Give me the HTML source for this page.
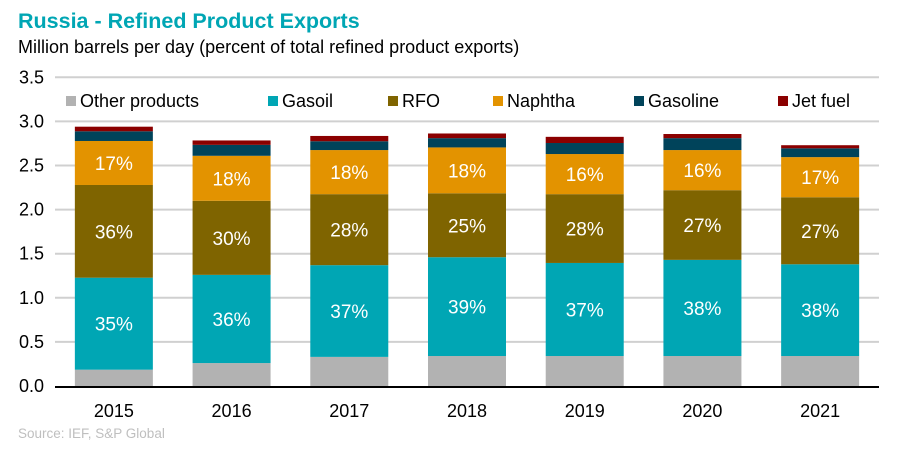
<!DOCTYPE html>
<html><head><meta charset="utf-8"><style>
body{margin:0;background:#fff;font-family:"Liberation Sans",Arial,sans-serif}
svg text{font-family:"Liberation Sans",Arial,sans-serif}
</style></head><body>
<svg width="900" height="450" viewBox="0 0 900 450">
<text x="18" y="28" font-size="21.5" font-weight="bold" fill="#00a6b4">Russia - Refined Product Exports</text>
<text x="18" y="53" font-size="18" fill="#000">Million barrels per day (percent of total refined product exports)</text>
<g id="grid"></g><g id="bars"></g><g id="legend"></g>
<text x="18" y="438" font-size="13.5" fill="#bfbfbf">Source: IEF, S&amp;P Global</text>
</svg>
<script>
const years=["2015","2016","2017","2018","2019","2020","2021"];
const seriesNames=["Other products","Gasoil","RFO","Naphtha","Gasoline","Jet fuel"];
const other=[0.185,0.26,0.33,0.34,0.34,0.34,0.34];
const gasoil=[1.043,1.00,1.04,1.12,1.055,1.09,1.04];
const rfo=[1.051,0.84,0.805,0.725,0.78,0.79,0.76];
const naphtha=[0.499,0.51,0.50,0.52,0.455,0.455,0.455];
const gasoline=[0.11,0.124,0.10,0.105,0.125,0.135,0.10];
const jet=[0.052,0.05,0.06,0.053,0.07,0.047,0.035];
const gasoilPct=["35%","36%","37%","39%","37%","38%","38%"];
const rfoPct=["36%","30%","28%","25%","28%","27%","27%"];
const naphthaPct=["17%","18%","18%","18%","16%","16%","17%"];
const yTicks=[0,0.5,1.0,1.5,2.0,2.5,3.0,3.5];
const colors=["#b2b2b2","#00a6b4","#7f6400","#e39300","#00435a","#8b0000"];
const NS="http://www.w3.org/2000/svg";
const x0=55,x1=879,yZero=386,pxPer=88.2,band=(x1-x0)/years.length,bw=78;
const y=v=>yZero-v*pxPer;
const xc=i=>x0+band*(i+0.5);
function mk(t,a,p){const e=document.createElementNS(NS,t);for(const k in a)e.setAttribute(k,a[k]);p.appendChild(e);return e;}
const grid=document.getElementById('grid');
yTicks.forEach(v=>{
 if(v>0){const l=mk('line',{x1:x0,x2:x1,y1:y(v),y2:y(v),stroke:'#d0d0d0','stroke-width':2},grid);
 
 }
 const t=mk('text',{x:44,y:y(v)+6,'font-size':18,'text-anchor':'end',fill:'#000'},grid);
 t.textContent=v.toFixed(1);
 
 
});
const bars=document.getElementById('bars');
const series=[other,gasoil,rfo,naphtha,gasoline,jet];
const pcts=[null,gasoilPct,rfoPct,naphthaPct,null,null];
years.forEach((yr,i)=>{
 let base=0;
 series.forEach((s,k)=>{
  const top=base+s[i];
  const r=mk('rect',{x:xc(i)-bw/2,y:y(top),width:bw,height:y(base)-y(top),fill:colors[k]},bars);
  
  
  if(pcts[k]){const t=mk('text',{x:xc(i),y:(y(top)+y(base))/2+7,'font-size':19,'text-anchor':'middle',fill:'#fff'},bars);
   t.textContent=pcts[k][i];
   
   }
  base=top;
 });
 const t=mk('text',{x:xc(i),y:417,'font-size':18,'text-anchor':'middle',fill:'#000'},bars);
 t.textContent=yr;
 
 
});
const ax=mk('line',{x1:x0,x2:x1,y1:yZero+1,y2:yZero+1,stroke:'#000','stroke-width':2},bars);


const lg=document.getElementById('legend');
const lx=[66,268,388,493,634,778];
seriesNames.forEach((n,k)=>{
 const g=mk('g',{},lg);
 
 
 mk('rect',{x:lx[k],y:96,width:10,height:10,fill:colors[k]},g);
 const t=mk('text',{x:lx[k]+14,y:107,'font-size':18,fill:'#000'},g);
 t.textContent=n;
});
</script>
</body></html>
